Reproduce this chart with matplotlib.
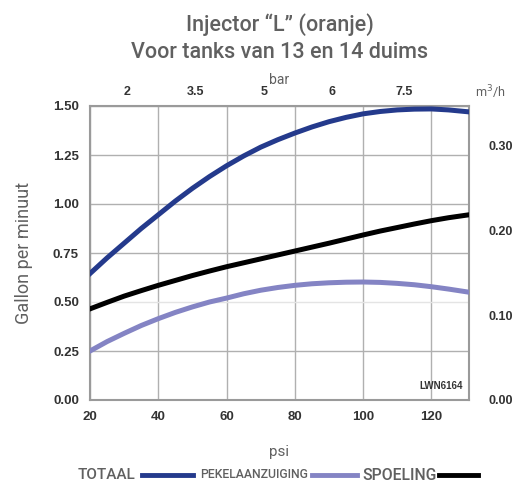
import matplotlib
matplotlib.use('Agg')
import matplotlib.pyplot as plt
from matplotlib.lines import Line2D

# psi on the bottom axis
psi = [20, 25, 30, 35, 40, 45, 50, 55, 60, 65, 70, 75, 80, 85, 90, 95, 100,
       105, 110, 115, 120, 125, 131]

# gallon per minute
totaal = [0.645, 0.725, 0.80, 0.875, 0.945, 1.015, 1.08, 1.14, 1.195, 1.245, 1.29,
          1.328, 1.362, 1.393, 1.42, 1.442, 1.46, 1.472, 1.48, 1.484, 1.485, 1.48, 1.47]
pekel = [0.25, 0.298, 0.34, 0.38, 0.415, 0.447, 0.475, 0.50, 0.52, 0.542, 0.56,
         0.574, 0.585, 0.593, 0.598, 0.601, 0.602, 0.60, 0.595, 0.588, 0.578, 0.566, 0.55]
spoeling = [0.465, 0.498, 0.53, 0.558, 0.585, 0.61, 0.635, 0.658, 0.68, 0.70, 0.72,
            0.74, 0.76, 0.78, 0.80, 0.821, 0.842, 0.862, 0.88, 0.898, 0.915, 0.93, 0.945]

psi_ticks = [20, 40, 60, 80, 100, 120]
gpm_ticks = [0.0, 0.25, 0.5, 0.75, 1.0, 1.25, 1.5]
bar_pos = [31, 51, 71, 91, 112]
bar_labels = ['2', '3.5', '5', '6', '7.5']
m3h_ticks = [0.0, 0.1, 0.2, 0.3]

C_TOT = '#243a8c'
C_PEK = '#8484c4'
C_SPO = '#000000'
GRAY = '#606060'
TICK = '#333333'

fig = plt.figure(figsize=(5.13, 4.82), dpi=100)
ax = fig.add_axes([90/513, 82/482, 379/513, 294/482])

ax.plot(psi, totaal, color=C_TOT, lw=3.6, solid_joinstyle='round', zorder=3)
ax.plot(psi, spoeling, color=C_SPO, lw=3.6, solid_joinstyle='round', zorder=3)
ax.plot(psi, pekel, color=C_PEK, lw=3.6, solid_joinstyle='round', zorder=3)

ax.set_xlim(20, 131)
ax.set_ylim(0, 1.5)
ax.set_xticks(psi_ticks)
ax.set_yticks(gpm_ticks)
ax.set_yticklabels(['%.2f' % v for v in gpm_ticks])
ax.grid(True, color='#b0b0b0', lw=1.0)
# the 0.50 line is much fainter in the original
ax.get_ygridlines()[2].set_color('#e4e4e4')
ax.tick_params(length=0, labelsize=9.5, labelcolor=TICK, pad=8)
for lab in ax.get_xticklabels() + ax.get_yticklabels():
    lab.set_fontfamily('Liberation Sans')
    lab.set_fontweight('bold')
for s in ax.spines.values():
    s.set_color('#9a9a9a')
    s.set_linewidth(1.5)

ax.set_ylabel('Gallon per minuut', fontsize=13, color=GRAY, family='Roboto', labelpad=14)
ax.set_xlabel('psi', fontsize=11, color=GRAY, family='Roboto', labelpad=16)

# top axis in bar
axt = ax.twiny()
axt.set_xlim(ax.get_xlim())
axt.set_xticks(bar_pos)
axt.set_xticklabels(bar_labels)
axt.tick_params(length=0, labelsize=9, labelcolor=TICK, pad=6)
for lab in axt.get_xticklabels():
    lab.set_fontfamily('Liberation Sans')
    lab.set_fontweight('bold')
axt.set_xlabel('bar', fontsize=10, color=GRAY, family='Roboto', labelpad=1)

# right axis in m3/h
axr = ax.twinx()
axr.set_ylim(0, 0.346)
axr.set_yticks(m3h_ticks)
axr.set_yticklabels(['%.2f' % v for v in m3h_ticks])
axr.tick_params(length=0, labelsize=9, labelcolor=TICK, pad=14)
for lab in axr.get_yticklabels():
    lab.set_fontfamily('Liberation Sans')
    lab.set_fontweight('bold')
for a in (axt, axr):
    for s in a.spines.values():
        s.set_visible(False)

fig.text(490/513, 1 - 92/482, 'm$^3$/h', ha='center', va='center', fontsize=9, color=GRAY, family='Roboto')
ax.text(0.985, 0.03, 'LWN6164', transform=ax.transAxes, ha='right', va='bottom',
        fontsize=7, fontweight='bold', color=TICK, family='Liberation Sans')

fig.text(280/513, 1 - 25/482, 'Injector \u201cL\u201d (oranje)', ha='center', va='center',
         fontsize=15.5, color=GRAY, family='Roboto', fontweight='medium')
fig.text(280/513, 1 - 52/482, 'Voor tanks van 13 en 14 duims', ha='center', va='center',
         fontsize=15.5, color=GRAY, family='Roboto', fontweight='medium')

# legend row at the bottom
ly = 1 - 475/482
fig.text(78/513, ly, 'TOTAAL', ha='left', va='center', fontsize=11, color=GRAY,
         family='Roboto', fontweight='medium')
fig.add_artist(Line2D([142/513, 193/513], [ly, ly], color=C_TOT, lw=3.5, transform=fig.transFigure))
fig.text(200/513, ly, 'PEKELAANZUIGING', ha='left', va='center', fontsize=8.8, color=GRAY,
         family='Roboto', fontweight='medium')
fig.add_artist(Line2D([312/513, 357/513], [ly, ly], color=C_PEK, lw=3.5, transform=fig.transFigure))
fig.text(362/513, ly, 'SPOELING', ha='left', va='center', fontsize=11.3, color=GRAY,
         family='Roboto', fontweight='medium')
fig.add_artist(Line2D([439/513, 478/513], [ly, ly], color=C_SPO, lw=3.5, transform=fig.transFigure))

fig.savefig('out.png', dpi=100)
